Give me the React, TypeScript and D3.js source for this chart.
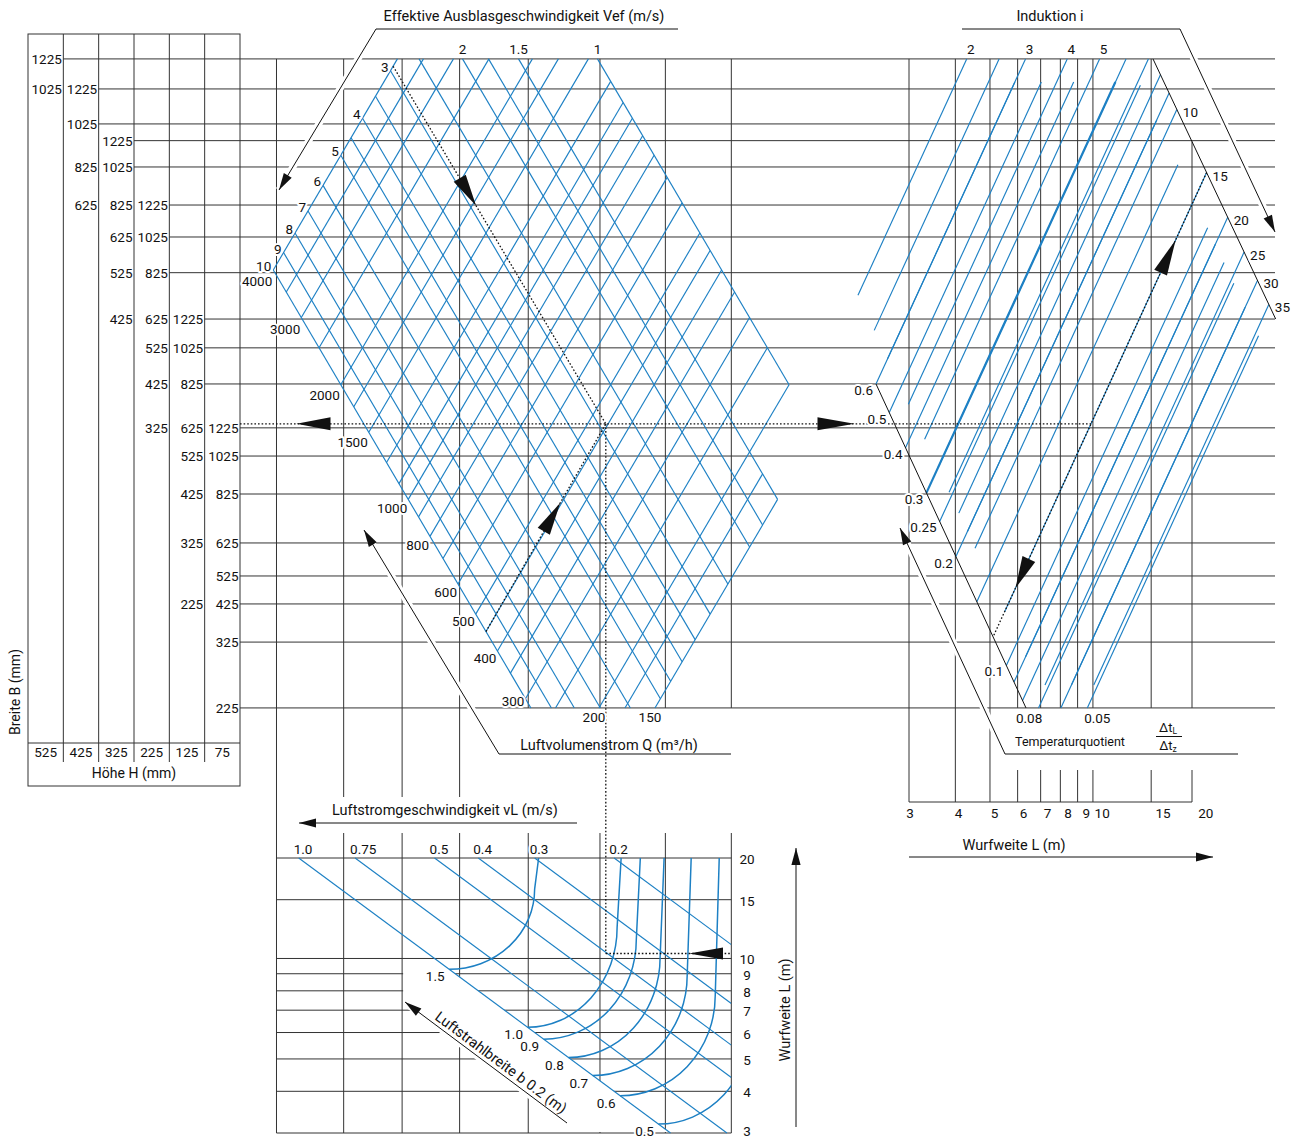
import React from 'react';
import * as d3 from 'd3';

const FONT = "Roboto, 'Open Sans', 'DejaVu Sans', sans-serif";
const BLUE = '#1d80c4';
const INK = '#111';
const GRID = '#333';

// ---------- selection table ----------
const heightsH = [525, 425, 325, 225, 125, 75];
// effective free area (m²) of each horizontal row, top to bottom
const rowAreas = [0.3977, 0.3317, 0.2685, 0.2427, 0.207, 0.1645, 0.1356, 0.1093, 0.0826, 0.0694, 0.0558, 0.0428, 0.0361, 0.0287, 0.02135, 0.01749, 0.01477, 0.01173, 0.00788];
// [height column, width B (mm), row]
const widthCells: [number, number, number][] = [
  [0, 1225, 0], [0, 1025, 1],
  [1, 1225, 1], [1, 1025, 2], [1, 825, 4], [1, 625, 5],
  [2, 1225, 3], [2, 1025, 4], [2, 825, 5], [2, 625, 6], [2, 525, 7], [2, 425, 8],
  [3, 1225, 5], [3, 1025, 6], [3, 825, 7], [3, 625, 8], [3, 525, 9], [3, 425, 10], [3, 325, 11],
  [4, 1225, 8], [4, 1025, 9], [4, 825, 10], [4, 625, 11], [4, 525, 12], [4, 425, 13], [4, 325, 14], [4, 225, 16],
  [5, 1225, 11], [5, 1025, 12], [5, 825, 13], [5, 625, 14], [5, 525, 15], [5, 425, 16], [5, 325, 17], [5, 225, 18],
];

// ---------- diamond: volume flow Q (m³/h) and effective velocity Vef (m/s) ----------
const flowRates = [4000, 3500, 3000, 2500, 2000, 1750, 1500, 1250, 1100, 1000, 900, 800, 700, 600, 500, 450, 400, 350, 300, 250, 200, 175, 150];
const flowEdgeLabels = [4000, 3000, 2000, 1500, 1000, 800, 600, 500, 400, 300];
const flowBottomLabels = [200, 150];
const velocities = [10, 9, 8, 7, 6, 5, 4.5, 4, 3.5, 3, 2.5, 2, 1.75, 1.5, 1];
const velocityEdgeLabels = [10, 9, 8, 7, 6, 5, 4, 3];
const velocityTopLabels = [2, 1.5, 1];

// ---------- induction / temperature quotient ----------
const inductions = [2, 2.5, 3, 4, 5, 6, 7, 8, 9, 10, 15, 20, 25, 30, 35];
const inductionTopLabels = [2, 3, 4, 5];
const inductionEdgeLabels = [10, 15, 20, 25, 30, 35];
const tempQuotients = [0.6, 0.5, 0.4, 0.3, 0.25, 0.2, 0.15, 0.1, 0.09, 0.08, 0.07, 0.06, 0.05];
const tempEdgeLabels = [0.6, 0.5, 0.4, 0.3, 0.25, 0.2, 0.1];
const tempBottomLabels = [0.08, 0.05];
const throwTicks = [3, 4, 5, 6, 7, 8, 9, 10, 15, 20];

// ---------- air speed vL at throw L ----------
const airSpeeds = [1.0, 0.75, 0.5, 0.4, 0.3, 0.2];
const throwRows = [20, 15, 10, 9, 8, 7, 6, 5, 4, 3];
const jetWidths = [1.5, 1.0, 0.9, 0.8, 0.7, 0.6, 0.5];
const jetWidthStartL = [9.28, 6.22, 5.73, 5.05, 4.46, 3.88, 3.19];
const jetWidthTopSpeed = [0.294, 0.193, 0.175, 0.155, 0.135, 0.117, 0.0975];
// vL·L value of each vertical grid line
const gridThrowProducts = [22.4, 15.9, 11.8, 8.8, 6.2, 4.3, 3.08, 2.2];

// worked example
const exampleRow = 11;
const exampleQ = 450;
const exampleInduction = 15;
const exampleThrow = 10;

// ---------- scales ----------
const yArea = d3.scaleLog().domain([0.1, 0.01]).range([287.4, 668.5]);
const xMomentum = d3.scaleLog().domain([40000, 400]).range([273.3, 721.6]);
const xThrowProduct = d3.scaleLog().domain([20, 2]).range([298.7, 750]);
const yThrow = d3.scaleLog().domain([20, 3]).range([858, 1133]);
const xThrowSide = d3.scaleLog().domain([2.5, 19.5]).range([909, 1192]);
const xInduction = d3.scaleLog().domain([2, 20]).range([797, 1130.9]);
const xCol = d3.scaleLinear().domain([0, 6]).range([28, 240]);

const TOP = yArea(rowAreas[0]);
const FLOOR = yArea(rowAreas[rowAreas.length - 1]);
const RIGHT = 1275;
const BOTTOM = yThrow(3);
const A_TOP = yArea.invert(TOP);
const A_BOT = yArea.invert(FLOOR);
const X_LIMIT = 792;

const pt = (q: number, v: number): [number, number] => [xMomentum(q * v), yArea(q / (3600 * v))];

// induction side geometry
const Y_REF = yArea(rowAreas[11]);
const RUN = 0.46;
type Edge = { x: number; y: number; k: number };
const EDGE_R: Edge = { x: 1153, y: TOP, k: 2.12 };
const EDGE_L: Edge = { x: 876, y: yArea(rowAreas[10]), k: 2.16 };
const lineX = (c: number, y: number) => c + (Y_REF - y) * RUN;
const edgeX = (e: Edge, y: number, shift = 0) => e.x + shift + (y - e.y) / e.k;
const meet = (c: number, e: Edge, shift = 0) =>
  (c + Y_REF * RUN - e.x - shift + e.y / e.k) / (RUN + 1 / e.k);
const I_FLOOR = 685;
const T_CEIL = 82;

function flowSegment(q: number) {
  let vLo = 10;
  if (pt(q, 10)[1] > FLOOR) vLo = q / (3600 * A_BOT);
  let vHi = d3.min(velocities.filter((v) => pt(q, v)[0] <= X_LIMIT)) as number;
  if (pt(q, vHi)[1] < TOP) vHi = q / (3600 * A_TOP);
  return [pt(q, vLo), pt(q, vHi)];
}
function velocitySegment(v: number) {
  let qHi = 4000;
  if (pt(4000, v)[1] < TOP) qHi = 3600 * A_TOP * v;
  let qLo = d3.min(flowRates.filter((q) => pt(q, v)[0] <= X_LIMIT)) as number;
  if (pt(qLo, v)[1] > FLOOR) qLo = 3600 * A_BOT * v;
  return [pt(qHi, v), pt(qLo, v)];
}

const arrowHead = (tip: [number, number], from: [number, number], len: number, half: number) => {
  const dx = tip[0] - from[0], dy = tip[1] - from[1];
  const d = Math.hypot(dx, dy) || 1;
  const ux = dx / d, uy = dy / d;
  const bx = tip[0] - ux * len, by = tip[1] - uy * len;
  return `${tip[0]},${tip[1]} ${bx - uy * half},${by + ux * half} ${bx + uy * half},${by - ux * half}`;
};
const lerp = (a: [number, number], b: [number, number], f: number): [number, number] => [a[0] + (b[0] - a[0]) * f, a[1] + (b[1] - a[1]) * f];

const halo = { stroke: '#fff', strokeWidth: 4, paintOrder: 'stroke', strokeLinejoin: 'round' } as const;

export default function App() {
  // ----- black grid -----
  const rowY = (r: number) => yArea(rowAreas[r]);
  const rowStart = rowAreas.map((_, r) => {
    const cols = widthCells.filter((c) => c[2] === r).map((c) => c[0]);
    return xCol((d3.max(cols) ?? 5) + 1);
  });
  const gridX = gridThrowProducts.map((p) => xThrowProduct(p));
  const vSegs: [number, number, number][] = [];
  gridX.forEach((x, k) => {
    if (k === 0) vSegs.push([x, TOP, BOTTOM]);
    else if (k <= 3) { vSegs.push([x, TOP, 797]); vSegs.push([x, 833, BOTTOM]); }
    else { vSegs.push([x, TOP, FLOOR]); vSegs.push([x, 833, BOTTOM]); }
  });
  throwTicks.forEach((L) => {
    const x = xThrowSide(L - 0.5);
    const y0 = x > EDGE_R.x ? EDGE_R.y + (x - EDGE_R.x) * EDGE_R.k : TOP;
    vSegs.push([x, y0, FLOOR]);
    if (L <= 5) vSegs.push([x, FLOOR, 802]);
    else vSegs.push([x, 770, 802]);
  });

  // ----- band behind the jet-width caption -----
  const diagAt = (L: number): [number, number] => [xThrowProduct(L), yThrow(L)];
  const BAND_W = 95;
  const bandTop = yThrow(10) + 3;
  const bandBot = BOTTOM - 1;
  const leftStop = gridX[2] + 1;
  const dTop = diagAt(yThrow.invert(bandTop));
  const dBot = diagAt(yThrow.invert(bandBot));
  const yLeft = yThrow(xThrowProduct.invert(leftStop + BAND_W));
  const band = [[leftStop, bandTop], [dTop[0], bandTop], [dBot[0], bandBot], [dBot[0] - BAND_W, bandBot], [leftStop, yLeft]];

  // ----- blue families -----
  const flowSegs = flowRates.map((q) => ({ q, s: flowSegment(q) }));
  const velSegs = velocities.map((v) => ({ v, s: velocitySegment(v) }));
  const indSegs = inductions.map((i) => {
    const c = xInduction(i);
    const y0 = lineX(c, TOP) > EDGE_R.x ? meet(c, EDGE_R) : TOP;
    const y1 = Math.min(meet(c, EDGE_L, 23), I_FLOOR);
    return { i, c, y0, y1 };
  });
  const tempSegs = tempQuotients.map((t) => {
    const c = xInduction(1.8 / t);
    const y0 = Math.min(meet(c, EDGE_L), FLOOR);
    const y1 = Math.max(meet(c, EDGE_R, -25), T_CEIL);
    return { t, c, y0, y1 };
  });
  const xRightBorder = gridX[gridX.length - 1];
  const speedSegs = airSpeeds.map((vl) => {
    const Lend = Math.max(3, xThrowProduct.invert(xRightBorder) / vl);
    return { vl, a: [xThrowProduct(vl * 20), yThrow(20)], b: [xThrowProduct(vl * Lend), yThrow(Lend)] };
  });
  const curves = jetWidths.map((b, k) => {
    const S: [number, number] = [xThrowProduct(jetWidthStartL[k]), yThrow(jetWidthStartL[k])];
    const T: [number, number] = [xThrowProduct(jetWidthTopSpeed[k] * 20), yThrow(20)];
    const rx = T[0] - S[0] - 4;
    const ry = Math.min(100, 0.72 * (S[1] - T[1]));
    const d = `M${S[0]},${S[1]} A${rx},${ry} 0 0 0 ${S[0] + rx},${S[1] - ry} L${T[0]},${T[1]}`;
    return { b, S, d };
  });

  // ----- worked example -----
  const aEx = rowAreas[exampleRow];
  const vEx = exampleQ / (3600 * aEx);
  const P = pt(exampleQ, vEx);
  const yEx = P[1] - 4;
  const Pd: [number, number] = [P[0], yEx];
  const vStart = pt(4000, vEx);
  const qStart = pt(exampleQ, 10);
  const cEx = xInduction(exampleInduction);
  const iTopY = meet(cEx, EDGE_R);
  const iBotY = meet(cEx, EDGE_L);
  const iTop: [number, number] = [lineX(cEx, iTopY), iTopY];
  const iBot: [number, number] = [lineX(cEx, iBotY), iBotY];
  const xExRight = lineX(cEx, yEx);
  const yExThrow = yThrow(exampleThrow) - 5;
  const tipVel = lerp(vStart, Pd, 0.39);
  const tipFlow = lerp(qStart, Pd, 0.62);
  const tipUp = lerp(iBot, iTop, 0.855);
  const tipDown = lerp(iTop, iBot, 0.895);
  const tipThrow = lerp([P[0], yExThrow], [xRightBorder, yExThrow], 0.663);
  const tipLeft: [number, number] = [gridX[0] + 20, yEx];
  const tipRight: [number, number] = [edgeX(EDGE_L, yEx) - 40, yEx];

  const dotted = { stroke: INK, strokeWidth: 1.3, strokeDasharray: '1.6 2', fill: 'none' };

  // annotation call-outs
  const callouts: { pts: [number, number][] }[] = [
    { pts: [[678, 29], [376, 29], [279, 190]] },
    { pts: [[731, 754], [499, 754], [364, 530]] },
    { pts: [[1238, 754], [1005, 754], [900, 528]] },
    { pts: [[962, 29], [1180, 29], [1275, 232]] },
    { pts: [[577, 823], [299, 823]] },
    { pts: [[567, 1123], [405, 1002]] },
    { pts: [[796, 1127], [796, 848]] },
    { pts: [[909, 857], [1213, 857]] },
  ];

  const ang = (Math.atan2(1123 - 1002, 567 - 405) * 180) / Math.PI;
  const capMid = lerp([405, 1002], [567, 1123], 0.56);
  const nrm = [Math.sin((ang * Math.PI) / 180), -Math.cos((ang * Math.PI) / 180)];

  return (
    <svg width={1304} height={1140} style={{ position: 'absolute', left: 0, top: 0 }} fontFamily={FONT} fontSize={13.5} fill={INK}>
      <rect width={1304} height={1140} fill="#fff" />

      {/* selection table */}
      <g stroke={GRID} strokeWidth={1} fill="none">
        <rect x={xCol(0)} y={34} width={xCol(6) - xCol(0)} height={786 - 34} />
        {d3.range(1, 6).map((k) => <line key={k} x1={xCol(k)} x2={xCol(k)} y1={34} y2={762} />)}
        <line x1={xCol(0)} x2={xCol(6)} y1={743} y2={743} />
      </g>
      {widthCells.map(([c, b, r], k) => (
        <text key={k} x={xCol(c + 1) - 1.5} y={rowY(r)} textAnchor="end" dominantBaseline="central">{b}</text>
      ))}
      {heightsH.map((h, k) => (
        <text key={h} x={xCol(k + 0.5)} y={752} textAnchor="middle" dominantBaseline="central">{h}</text>
      ))}
      <text x={xCol(3)} y={773} textAnchor="middle" dominantBaseline="central" fontSize={14}>Höhe H (mm)</text>
      <text transform={`translate(15,692) rotate(-90)`} textAnchor="middle" dominantBaseline="central" fontSize={14}>Breite B (mm)</text>

      {/* black grid */}
      <g stroke={GRID} strokeWidth={1}>
        {rowAreas.map((a, r) => <line key={r} x1={rowStart[r]} x2={RIGHT} y1={yArea(a)} y2={yArea(a)} />)}
        {vSegs.map(([x, y1, y2], k) => <line key={k} x1={x} x2={x} y1={y1} y2={y2} />)}
        {throwRows.map((L) => <line key={L} x1={gridX[0]} x2={xRightBorder} y1={yThrow(L)} y2={yThrow(L)} />)}
        <line x1={xThrowSide(2.5)} x2={xThrowSide(19.5)} y1={802} y2={802} />
      </g>
      <polygon points={band.map((p) => p.join(',')).join(' ')} fill="#fff" />

      {/* diamond */}
      <g stroke={BLUE} strokeWidth={1.15} fill="none">
        {flowSegs.map(({ q, s }) => <line key={'q' + q} x1={s[0][0]} y1={s[0][1]} x2={s[1][0]} y2={s[1][1]} />)}
        {velSegs.map(({ v, s }) => <line key={'v' + v} x1={s[0][0]} y1={s[0][1]} x2={s[1][0]} y2={s[1][1]} />)}
      </g>

      {/* induction and temperature quotient lines */}
      <g stroke={BLUE} strokeWidth={1.15} fill="none">
        {indSegs.map(({ i, c, y0, y1 }) => <line key={'i' + i} x1={lineX(c, y0)} y1={y0} x2={lineX(c, y1)} y2={y1} />)}
        {tempSegs.map(({ t, c, y0, y1 }) => (
          <line key={'t' + t} x1={lineX(c, y0)} y1={y0} x2={lineX(c, y1)} y2={y1} strokeWidth={t === 0.3 ? 2.2 : 1.15} />
        ))}
      </g>
      <g stroke={INK} strokeWidth={1}>
        <line x1={EDGE_R.x} y1={EDGE_R.y} x2={edgeX(EDGE_R, rowY(8))} y2={rowY(8)} />
        <line x1={EDGE_L.x} y1={EDGE_L.y} x2={edgeX(EDGE_L, FLOOR)} y2={FLOOR} />
      </g>

      {/* air speed chart */}
      <defs>
        <clipPath id="speedClip">
          <rect x={gridX[0]} y={yThrow(20) - 1} width={xRightBorder - gridX[0]} height={BOTTOM - yThrow(20) + 2} />
        </clipPath>
      </defs>
      <g stroke={BLUE} strokeWidth={1.15} fill="none" clipPath="url(#speedClip)">
        {speedSegs.map(({ vl, a, b }) => <line key={vl} x1={a[0]} y1={a[1]} x2={b[0]} y2={b[1]} />)}
        {curves.map(({ b, d }) => <path key={b} d={d} strokeWidth={1.5} />)}
      </g>

      {/* call-out lines */}
      {callouts.map(({ pts }, k) => (
        <g key={k}>
          <polyline points={pts.map((p) => p.join(',')).join(' ')} fill="none" stroke="#fff" strokeWidth={7} />
          <polyline points={pts.map((p) => p.join(',')).join(' ')} fill="none" stroke={INK} strokeWidth={1} />
          <polygon points={arrowHead(pts[pts.length - 1], pts[pts.length - 2], 17, 4.6)} fill={INK} />
        </g>
      ))}

      {/* worked example */}
      <g {...dotted}>
        <line x1={xCol(6)} y1={yEx} x2={xExRight} y2={yEx} />
        <line x1={vStart[0]} y1={vStart[1]} x2={Pd[0]} y2={Pd[1]} />
        <line x1={qStart[0]} y1={qStart[1]} x2={Pd[0]} y2={Pd[1]} />
        <line x1={P[0]} y1={yEx} x2={P[0]} y2={yExThrow} />
        <line x1={P[0]} y1={yExThrow} x2={xRightBorder} y2={yExThrow} />
        <line x1={iTop[0]} y1={iTop[1]} x2={iBot[0]} y2={iBot[1]} />
      </g>

      {/* labels: diamond */}
      <g {...halo}>
        {velocityEdgeLabels.map((v) => {
          const [x, y] = pt(4000, v);
          return <text key={v} x={x - 2} y={y + 1} textAnchor="end">{v}</text>;
        })}
        {velocityTopLabels.map((v) => {
          const x = pt(3600 * A_TOP * v, v)[0];
          return <text key={v} x={x} y={54} textAnchor="middle">{v}</text>;
        })}
        {flowEdgeLabels.map((q) => {
          const [x, y] = pt(q, 10);
          const off = 11.5 - (y - 270) * 0.012;
          return <text key={q} x={x - 1} y={Math.min(y + off, 701)} textAnchor="end" dominantBaseline="central">{q}</text>;
        })}
        {flowBottomLabels.map((q) => {
          const x = pt(q, q / (3600 * A_BOT))[0];
          return <text key={q} x={x - 5} y={717} textAnchor="middle" dominantBaseline="central">{q}</text>;
        })}

        {/* induction side */}
        {inductionTopLabels.map((i) => (
          <text key={i} x={lineX(xInduction(i), TOP) + 4} y={54} textAnchor="middle">{i}</text>
        ))}
        {inductionEdgeLabels.map((i) => {
          const c = xInduction(i);
          const y = meet(c, EDGE_R);
          return <text key={i} x={lineX(c, y) + 6} y={y + 3} dominantBaseline="central">{i}</text>;
        })}
        {tempEdgeLabels.map((t) => {
          const c = xInduction(1.8 / t);
          const y = meet(c, EDGE_L);
          return <text key={t} x={lineX(c, y) - 3} y={y + 6} textAnchor="end" dominantBaseline="central">{t}</text>;
        })}
        {tempBottomLabels.map((t) => (
          <text key={t} x={lineX(xInduction(1.8 / t), FLOOR) + 10} y={718} textAnchor="middle" dominantBaseline="central">{t}</text>
        ))}
        {throwTicks.map((L) => {
          const x = xThrowSide(L - 0.5);
          return <text key={L} x={x + 1 + (x - 909) * 0.045} y={813} textAnchor="middle" dominantBaseline="central">{L}</text>;
        })}

        {/* air speed chart */}
        {airSpeeds.map((vl) => (
          <text key={vl} x={xThrowProduct(vl * 20) - 5} y={849} dominantBaseline="central">{vl === 1 ? '1.0' : vl}</text>
        ))}
        {throwRows.map((L) => (
          <text key={L} x={747} y={Math.min(yThrow(L) + 1, 1131)} textAnchor="middle" dominantBaseline="central">{L}</text>
        ))}
        {curves.map(({ b, S }) => (
          <text key={b} x={S[0] - 14} y={S[1] + 7} textAnchor="middle" dominantBaseline="central">{b === 1 ? '1.0' : b}</text>
        ))}
      </g>

      {/* titles */}
      <g fontSize={14.5}>
        <text x={524} y={16} textAnchor="middle" dominantBaseline="central">Effektive Ausblasgeschwindigkeit Vef (m/s)</text>
        <text x={1050} y={16} textAnchor="middle" dominantBaseline="central">Induktion i</text>
        <text x={609} y={745} textAnchor="middle" dominantBaseline="central">Luftvolumenstrom Q (m³/h)</text>
        <text x={445} y={810} textAnchor="middle" dominantBaseline="central">Luftstromgeschwindigkeit vL (m/s)</text>
        <text x={1014} y={845} textAnchor="middle" dominantBaseline="central">Wurfweite L (m)</text>
        <text transform="translate(785,1010) rotate(-90)" textAnchor="middle" dominantBaseline="central">Wurfweite L (m)</text>
        <text
          transform={`translate(${capMid[0] + nrm[0] * 4},${capMid[1] + nrm[1] * 4}) rotate(${ang})`}
          textAnchor="middle"
        >
          Luftstrahlbreite b 0.2 (m)
        </text>
      </g>
      <text x={1070} y={741} textAnchor="middle" dominantBaseline="central" fontSize={12.5}>Temperaturquotient</text>
      <g fontSize={13}>
        <text x={1168} y={732} textAnchor="middle">Δt<tspan fontSize={8.5} dy={2}>L</tspan></text>
        <line x1={1156} x2={1182} y1={736.5} y2={736.5} stroke={INK} />
        <text x={1168} y={750} textAnchor="middle">Δt<tspan fontSize={8.5} dy={2}>z</tspan></text>
      </g>

      {/* example arrowheads */}
      <g fill={INK}>
        <polygon points={arrowHead(tipLeft, [tipLeft[0] + 10, yEx], 34, 6.5)} />
        <polygon points={arrowHead(tipRight, [tipRight[0] - 10, yEx], 37, 6.5)} />
        <polygon points={arrowHead(tipVel, vStart, 32, 7)} />
        <polygon points={arrowHead(tipFlow, qStart, 33, 7)} />
        <polygon points={arrowHead(tipUp, iBot, 36, 7)} />
        <polygon points={arrowHead(tipDown, iTop, 32, 7)} />
        <polygon points={arrowHead(tipThrow, [xRightBorder, yExThrow], 34, 6)} />
      </g>
    </svg>
  );
}
